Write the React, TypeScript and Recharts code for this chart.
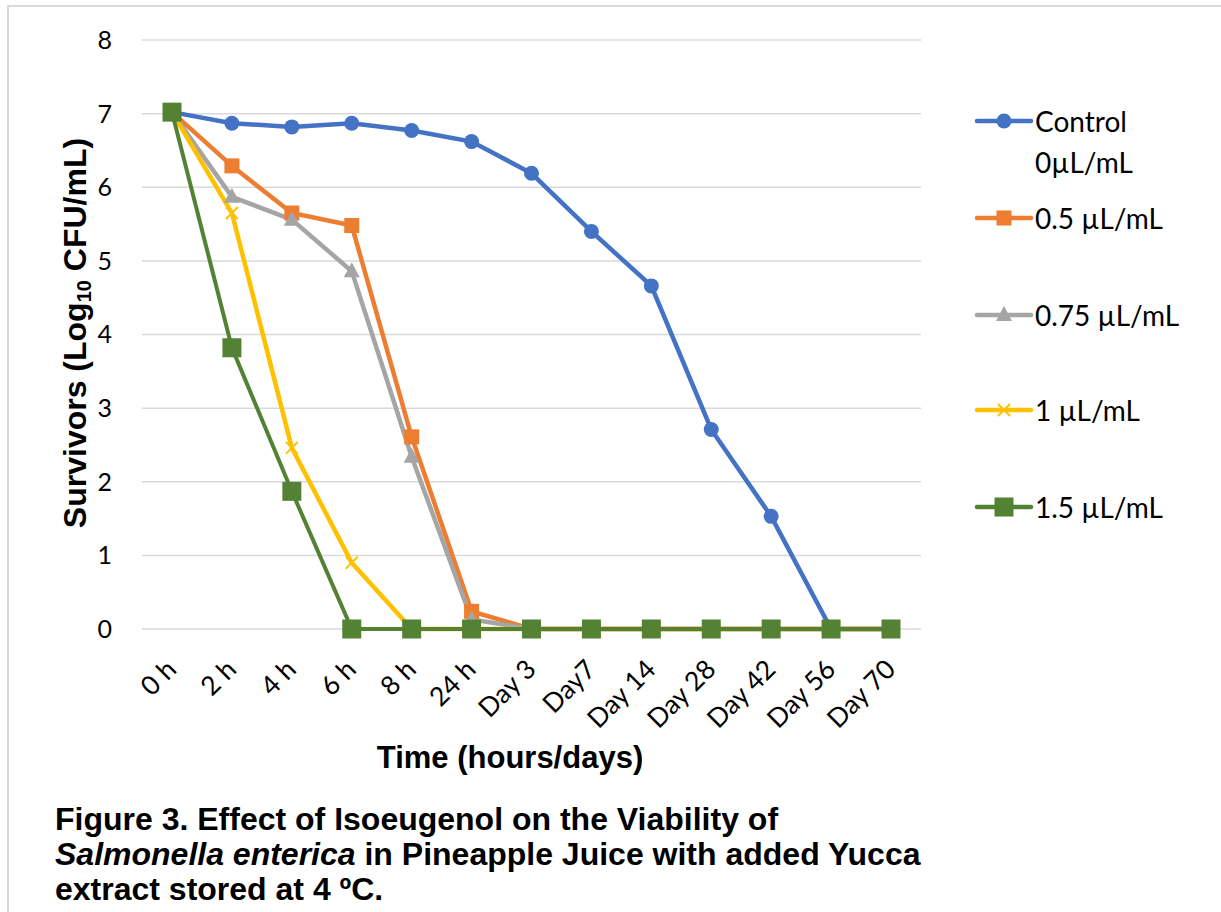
import React from "react";
import { CartesianGrid, Line, LineChart, XAxis, YAxis } from "recharts";

const categories = ["0 h", "2 h", "4 h", "6 h", "8 h", "24 h", "Day 3", "Day7", "Day 14", "Day 28", "Day 42", "Day 56", "Day 70"];
const control = [7.02, 6.87, 6.82, 6.87, 6.77, 6.62, 6.19, 5.4, 4.66, 2.71, 1.53, 0, 0];
const dose05 = [7.02, 6.29, 5.65, 5.48, 2.61, 0.24, 0, 0, 0, 0, 0, 0, 0];
const dose075 = [7.02, 5.87, 5.56, 4.86, 2.34, 0.13, 0, 0, 0, 0, 0, 0, 0];
const dose1 = [7.02, 5.65, 2.46, 0.9, 0, 0, 0, 0, 0, 0, 0, 0, 0];
const dose15 = [7.02, 3.82, 1.87, 0, 0, 0, 0, 0, 0, 0, 0, 0, 0];
const yTicks = [0, 1, 2, 3, 4, 5, 6, 7, 8];

const data = categories.map((label, i) => ({
  label,
  control: control[i],
  d05: dose05[i],
  d075: dose075[i],
  d1: dose1[i],
  d15: dose15[i],
}));

const BLUE = "#4472C4";
const ORANGE = "#ED7D31";
const GRAY = "#A5A5A5";
const YELLOW = "#FFC000";
const GREEN = "#548235";

const TICK_FONT = "Lato, 'Open Sans', sans-serif";
const BOLD_FONT = "'Liberation Sans', Arial, sans-serif";

type DotProps = { cx?: number; cy?: number; index?: number };

function marker(kind: string, color: string, cx: number, cy: number, key?: React.Key) {
  if (kind === "circle") return <circle key={key} cx={cx} cy={cy} r={7.5} fill={color} />;
  if (kind === "square") return <rect key={key} x={cx - 7.5} y={cy - 7.5} width={15} height={15} fill={color} />;
  if (kind === "bigsquare") return <rect key={key} x={cx - 9.5} y={cy - 9.5} width={19} height={19} fill={color} />;
  if (kind === "triangle")
    return <path key={key} d={`M${cx},${cy - 9} L${cx + 8},${cy + 6} L${cx - 8},${cy + 6} Z`} fill={color} />;
  return (
    <path
      key={key}
      d={`M${cx - 6},${cy - 6} L${cx + 6},${cy + 6} M${cx - 6},${cy + 6} L${cx + 6},${cy - 6}`}
      stroke={color}
      strokeWidth={2}
      fill="none"
    />
  );
}

const dotOf = (kind: string, color: string) => (p: DotProps) =>
  marker(kind, color, p.cx ?? 0, p.cy ?? 0, p.index);

const XTick = ({ x, y, payload }: { x: number; y: number; payload: { value: string } }) => {
  const bx = x + 6;
  const by = y + 34;
  return (
    <text
      x={bx}
      y={by}
      textAnchor="end"
      transform={`rotate(-45, ${bx}, ${by})`}
      fill="#000"
      fontSize={26.5}
      fontFamily={TICK_FONT}
    >
      {payload.value}
    </text>
  );
};

const legendItems = [
  { label: ["Control", "0µL/mL"], color: BLUE, kind: "circle", y: 121 },
  { label: ["0.5 µL/mL"], color: ORANGE, kind: "square", y: 218 },
  { label: ["0.75 µL/mL"], color: GRAY, kind: "triangle", y: 315 },
  { label: ["1 µL/mL"], color: YELLOW, kind: "cross", y: 410 },
  { label: ["1.5 µL/mL"], color: GREEN, kind: "bigsquare", y: 507 },
];

export default function App() {
  return (
    <div style={{ position: "absolute", left: 0, top: 0, width: 1221, height: 912, background: "#fff", overflow: "hidden" }}>
      <div
        style={{
          position: "absolute",
          left: 7,
          top: 5,
          width: 1240,
          height: 940,
          borderLeft: "2px solid #D9D9D9",
          borderTop: "2px solid #D9D9D9",
        }}
      />
      <div style={{ position: "absolute", left: 0, top: 0 }}>
        <LineChart width={1221} height={912} data={data} margin={{ top: 40, right: 300, bottom: 183, left: 102 }}>
          <CartesianGrid vertical={false} stroke="#D9D9D9" strokeWidth={1.5} />
          <XAxis
            dataKey="label"
            height={100}
            axisLine={false}
            tickLine={false}
            interval={0}
            padding={{ left: 30, right: 30 }}
            tick={XTick as any}
          />
          <YAxis
            width={40}
            domain={[0, 8]}
            ticks={yTicks}
            axisLine={false}
            tickLine={false}
            tickMargin={24}
            tick={{ fill: "#000", fontSize: 25, fontFamily: TICK_FONT }}
          />
          <Line dataKey="control" stroke={BLUE} strokeWidth={4.5} dot={dotOf("circle", BLUE)} isAnimationActive={false} />
          <Line dataKey="d05" stroke={ORANGE} strokeWidth={4.5} dot={dotOf("square", ORANGE)} isAnimationActive={false} />
          <Line dataKey="d075" stroke={GRAY} strokeWidth={4.5} dot={dotOf("triangle", GRAY)} isAnimationActive={false} />
          <Line dataKey="d1" stroke={YELLOW} strokeWidth={4.5} dot={dotOf("cross", YELLOW)} isAnimationActive={false} />
          <Line dataKey="d15" stroke={GREEN} strokeWidth={4} dot={dotOf("bigsquare", GREEN)} isAnimationActive={false} />
        </LineChart>
      </div>

      {legendItems.map((item) => (
        <div key={item.label[0]}>
          <svg style={{ position: "absolute", left: 974, top: item.y - 10 }} width={60} height={20}>
            <line x1={3} y1={10} x2={57} y2={10} stroke={item.color} strokeWidth={4.5} strokeLinecap="round" />
            {marker(item.kind, item.color, 30, 10)}
          </svg>
          {item.label.map((t, j) => (
            <div
              key={t}
              style={{
                position: "absolute",
                left: 1035,
                top: item.y - 19 + j * 41,
                fontFamily: TICK_FONT,
                fontSize: 28,
                lineHeight: "38px",
                color: "#000",
                whiteSpace: "nowrap",
              }}
            >
              {t}
            </div>
          ))}
        </div>
      ))}

      <div
        style={{
          position: "absolute",
          left: 75 - 300,
          top: 333 - 20,
          width: 600,
          height: 40,
          lineHeight: "40px",
          textAlign: "center",
          transform: "rotate(-90deg)",
          fontFamily: BOLD_FONT,
          fontWeight: "bold",
          fontSize: 32,
          color: "#000",
          whiteSpace: "nowrap",
        }}
      >
        Survivors (Log<sub style={{ fontSize: 20, verticalAlign: "-5px" }}>10</sub> CFU/mL)
      </div>

      <div
        style={{
          position: "absolute",
          left: 210,
          top: 739,
          width: 600,
          textAlign: "center",
          fontFamily: BOLD_FONT,
          fontWeight: "bold",
          fontSize: 31,
          lineHeight: "38px",
          color: "#000",
        }}
      >
        Time (hours/days)
      </div>

      <div
        style={{
          position: "absolute",
          left: 55,
          top: 802,
          fontFamily: BOLD_FONT,
          fontWeight: "bold",
          fontSize: 32,
          lineHeight: "35px",
          color: "#000",
          whiteSpace: "nowrap",
        }}
      >
        <div>Figure 3. Effect of Isoeugenol on the Viability of</div>
        <div>
          <i>Salmonella enterica</i> in Pineapple Juice with added Yucca
        </div>
        <div>extract stored at 4 ºC.</div>
      </div>
    </div>
  );
}
